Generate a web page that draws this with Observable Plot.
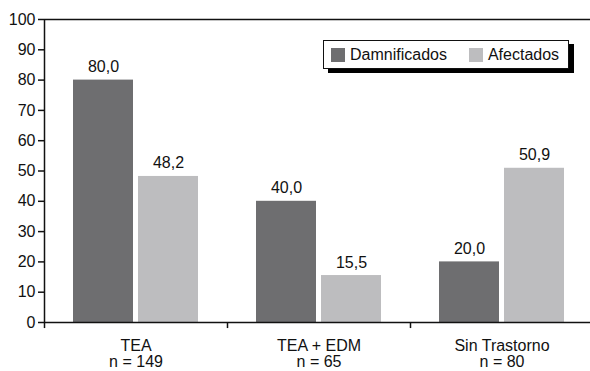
<!DOCTYPE html>
<html>
<head>
<meta charset="utf-8">
<script src="https://cdn.jsdelivr.net/npm/d3@7"></script>
<script src="https://cdn.jsdelivr.net/npm/@observablehq/plot@0.6"></script>
<style>
  html, body { margin: 0; padding: 0; background: white; overflow: hidden; }
  #wrap { position: relative; width: 590px; height: 371px; font-family: "Liberation Sans", Arial, sans-serif; }
  #legend { position: absolute; left: 323px; top: 40px; width: 244px; height: 27px; border: 1px solid #111;
    background: white; box-shadow: 5px 4px 0 #000; display: flex; align-items: center; font-size: 16px; color: #111; }
  #legend .sw { width: 14px; height: 14px; display: inline-block; margin-right: 5px; }
  #legend .item { display: flex; align-items: center; }
</style>
</head>
<body>
<div id="wrap"></div>
<script>
const categories = ["TEA", "TEA + EDM", "Sin Trastorno"];
const sizes = ["n = 149", "n = 65", "n = 80"];
const series = ["Damnificados", "Afectados"];
const damnificados = [80.0, 40.0, 20.0];
const afectados = [48.2, 15.5, 50.9];
const yTicks = [0, 10, 20, 30, 40, 50, 60, 70, 80, 90, 100];
const colors = ["#6e6e70", "#bdbdbf"];

const data = categories.map((c, i) => ({cat: c, n: sizes[i], d: damnificados[i], a: afectados[i]}));
const fmt = v => v.toFixed(1).replace(".", ",");
const half = 91.5;

const plot = Plot.plot({
  width: 590,
  height: 371,
  marginLeft: 44,
  marginRight: 0,
  marginTop: 19,
  marginBottom: 49,
  style: {fontFamily: "Liberation Sans, Arial, sans-serif", fontSize: "16px", color: "#111", overflow: "hidden"},
  x: {domain: categories, range: [44, 593], padding: 0, axis: null},
  y: {domain: [0, 100], axis: null},
  marks: [
    Plot.barY(data, {x: "cat", y: "d", fill: colors[0], insetLeft: 29, insetRight: 94}),
    Plot.barY(data, {x: "cat", y: "a", fill: colors[1], insetLeft: 94, insetRight: 29}),
    Plot.text(data, {x: "cat", y: "d", text: d => fmt(d.d), dx: -half + 59, dy: -8, lineAnchor: "bottom", fontSize: 16, fill: "#111"}),
    Plot.text(data, {x: "cat", y: "a", text: d => fmt(d.a), dx: -half + 124, dy: -8, lineAnchor: "bottom", fontSize: 16, fill: "#111"}),
    Plot.ruleY([0, 100], {stroke: "#111", strokeWidth: 1.5}),
    Plot.ruleX([categories[0]], {x: d => d, dx: -half, y1: 0, y2: 100, stroke: "#111", strokeWidth: 1.5}),
    Plot.ruleX(categories, {x: d => d, dx: -half, y1: 0, y2: -2, stroke: "#111", strokeWidth: 1.5}),
    Plot.axisY({ticks: yTicks, tickSize: 6, tickPadding: 3, label: null, fontSize: 16, stroke: "#111", strokeWidth: 1.5, fill: "#111"}),
    Plot.axisX({tickSize: 0, tickPadding: 17, label: null, fontSize: 16, fill: "#111",
      tickFormat: c => c + "\n" + sizes[categories.indexOf(c)]})
  ]
});

const wrap = document.getElementById("wrap");
wrap.appendChild(plot);

const legend = document.createElement("div");
legend.id = "legend";
legend.innerHTML =
  `<div class="item" style="margin-left:7px"><span class="sw" style="background:${colors[0]}"></span>${series[0]}</div>` +
  `<div class="item" style="margin-left:22px"><span class="sw" style="background:${colors[1]}"></span>${series[1]}</div>`;
wrap.appendChild(legend);
</script>
</body>
</html>
